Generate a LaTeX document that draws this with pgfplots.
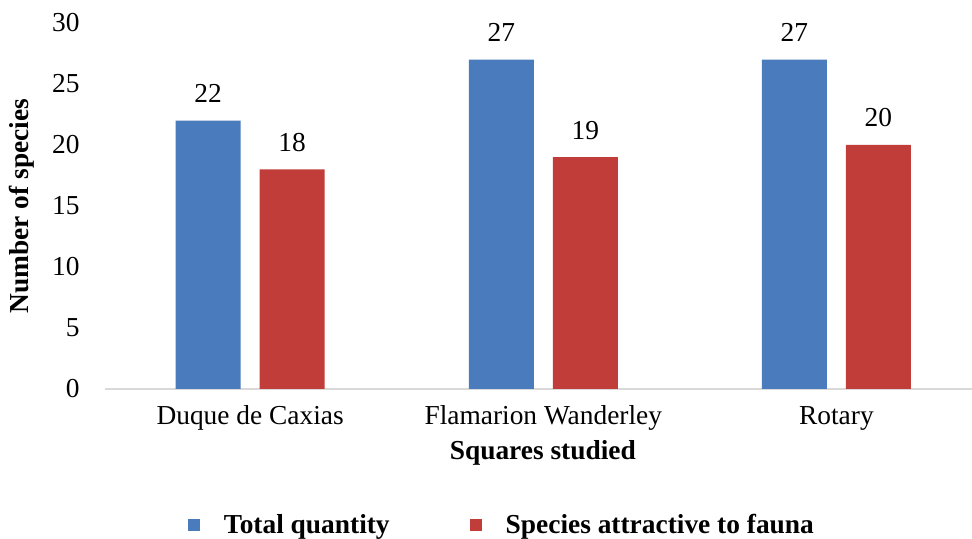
\documentclass[border=0pt]{standalone}
\usepackage{pgfplots}
\pgfplotsset{compat=1.18}
\usepackage{fontspec}
\setmainfont{Liberation Serif}
\definecolor{barblue}{HTML}{4A7BBC}
\definecolor{barred}{HTML}{C13D3A}
\definecolor{axisgray}{HTML}{D9D9D9}
\begin{document}
\begin{tikzpicture}
\useasboundingbox (-52.5pt,-75pt) rectangle (433.5pt,194.5pt);
\begin{axis}[
  at={(0,0)}, anchor=south west,
  scale only axis,
  width=433.5pt, height=183pt,
  font=\fontsize{13.7}{16}\selectfont,
  /pgf/number format/assume math mode=true,
  ybar=9.5pt, bar width=32.5pt,
  xmin=-0.495, xmax=2.4625,
  ymin=0, ymax=30,
  ytick={0,5,...,30},
  xtick=data,
  xticklabels={Duque de Caxias, Flamarion Wanderley, Rotary},
  major tick length=0pt,
  axis y line=none,
  axis x line*=bottom,
  x axis line style={draw=axisgray, line width=1pt, -},
  axis line style={-},
  hide y axis=false,
  y axis line style={draw=none},
  ymajorgrids=false,
  y tick label style={anchor=east, inner sep=0pt, xshift=-12.5pt},
  x tick label style={anchor=base, inner sep=0pt, yshift=-18pt},
  xlabel={\textbf{Squares studied}},
  xlabel style={at={(axis description cs:0.505,0)}, anchor=base, inner sep=0pt, yshift=-35pt},
  ylabel={\textbf{Number of species}},
  ylabel style={at={(axis description cs:-0.0957,0.5)}, anchor=center, rotate=0},
  nodes near coords,
  every node near coord/.append style={anchor=base, yshift=9pt, inner sep=0pt, black, font=\fontsize{13.7}{16}\selectfont},
  legend columns=2,
  legend style={at={(axis description cs:0.0957,-0.3716)}, anchor=west, draw=none, inner sep=0pt, outer sep=0pt,
    font=\fontsize{13.7}{16}\selectfont\bfseries,
    /tikz/every odd column/.append style={column sep=10pt},
    /tikz/every even column/.append style={column sep=38pt}},
  legend image code/.code={\fill[#1] (0pt,-3pt) rectangle (6pt,3pt);},
]
\addplot[fill=barblue, draw=none] coordinates {(0,22) (1,27) (2,27)};
\addplot[fill=barred, draw=none] coordinates {(0,18) (1,19) (2,20)};
\legend{Total quantity, Species attractive to fauna}
\end{axis}
\end{tikzpicture}
\end{document}
